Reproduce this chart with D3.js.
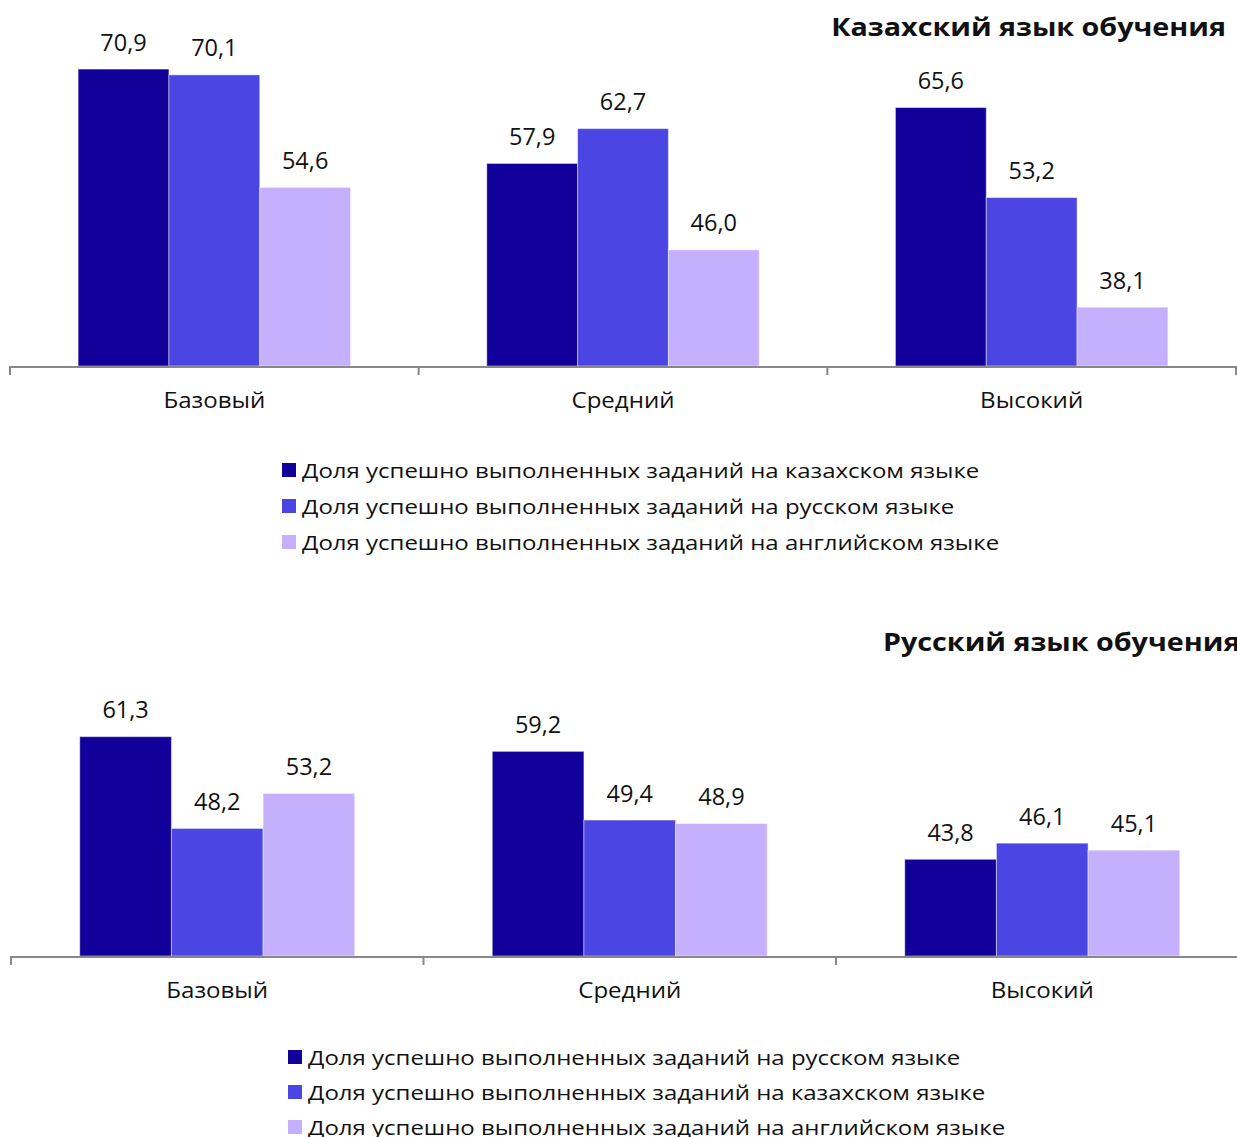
<!DOCTYPE html>
<html><head><meta charset="utf-8">
<script src="https://cdn.jsdelivr.net/npm/d3@7"></script>
<style>body{margin:0;background:#fff}svg{display:block}text{font-family:"Open Sans",sans-serif;fill:#111}</style>
</head><body>
<svg id="c" width="1237" height="1137"></svg>
<script>
const categories = ["Базовый", "Средний", "Высокий"];
const titleKz = "Казахский язык обучения";
const seriesKz = ["Доля успешно выполненных заданий на казахском языке", "Доля успешно выполненных заданий на русском языке", "Доля успешно выполненных заданий на английском языке"];
const kzKazakh = [70.9, 57.9, 65.6];
const kzRussian = [70.1, 62.7, 53.2];
const kzEnglish = [54.6, 46.0, 38.1];
const titleRu = "Русский язык обучения";
const seriesRu = ["Доля успешно выполненных заданий на русском языке", "Доля успешно выполненных заданий на казахском языке", "Доля успешно выполненных заданий на английском языке"];
const ruRussian = [61.3, 59.2, 43.8];
const ruKazakh = [48.2, 49.4, 46.1];
const ruEnglish = [53.2, 48.9, 45.1];
const yDomain = [30, 80];
const colors = ["#12009b", "#4b45e3", "#c5b0fd"];

const svg = d3.select("#c");
const fmt = v => d3.format(".1f")(v).replace(".", ",");

function chart(o) {
  const g = svg.append("g");
  const x = d3.scaleBand().domain(categories).range([o.x0, o.x1]);
  const bw = x.bandwidth();
  const xs = d3.scaleBand().domain([0,1,2]).range([bw/6, bw*5/6]);
  const y = d3.scaleLinear().domain(yDomain).range([o.base, o.top]);
  const rows = categories.map((c,i) => ({c, vals: o.series.map(s => s[i])}));
  const grp = g.selectAll("g.grp").data(rows).join("g").attr("transform", d => `translate(${x(d.c)},0)`);
  grp.selectAll("rect").data(d => d.vals.map((v,k)=>({v,k}))).join("rect")
    .attr("x", d => xs(d.k)).attr("width", xs.bandwidth())
    .attr("y", d => y(d.v)).attr("height", d => y(yDomain[0]) - y(d.v))
    .attr("fill", d => colors[d.k]).attr("stroke", "rgba(255,255,255,0.45)").attr("stroke-width", 1);
  grp.selectAll("text.val").data(d => d.vals.map((v,k)=>({v,k}))).join("text").attr("class","val")
    .attr("x", d => xs(d.k) + xs.bandwidth()/2).attr("y", d => y(d.v) - 18.5)
    .attr("text-anchor","middle").style("font-size","23.5px").text(d => fmt(d.v));
  // axis
  const edges = categories.map(c => x(c)).concat([o.x1]);
  g.append("line").attr("x1", o.x0).attr("x2", o.x1).attr("y1", o.base+1).attr("y2", o.base+1)
    .attr("stroke","#888").attr("stroke-width",2);
  g.selectAll("line.tick").data(edges).join("line").attr("class","tick")
    .attr("x1", d=>d).attr("x2", d=>d).attr("y1", o.base).attr("y2", o.base+9)
    .attr("stroke","#888").attr("stroke-width",2);
  g.selectAll("text.cat").data(categories).join("text").attr("class","cat")
    .attr("transform", d => `translate(${x(d) + bw/2},${o.base + 41.5}) scale(1.095,1)`)
    .attr("text-anchor","middle").style("font-size","22px").text(d => d);
  // title
  g.append("text").attr("transform", `translate(${o.titleX},${o.titleY}) scale(1.126,1)`)
    .attr("text-anchor", o.titleAnchor)
    .style("font-size","25.5px").style("font-weight","700").text(o.title);
  // legend
  const lg = g.selectAll("g.leg").data(o.names).join("g").attr("class","leg")
    .attr("transform", (d,i) => `translate(${o.legX},${o.legY + i*o.legStep})`);
  lg.append("rect").attr("x",0).attr("y",-7).attr("width",14).attr("height",14).attr("fill",(d,i)=>colors[i]);
  lg.append("text").attr("transform","translate(20,7.5) scale(1.17,1)").style("font-size","20.5px").text(d=>d);
}

chart({x0:10, x1:1236, base:366, top:3, series:[kzKazakh, kzRussian, kzEnglish], names: seriesKz,
  title: titleKz, titleX:1226, titleY:35.5, titleAnchor:"end", legX:282, legY:470, legStep:36});
chart({x0:11, x1:1248.5, base:956, top:605.6, series:[ruRussian, ruKazakh, ruEnglish], names: seriesRu,
  title: titleRu, titleX:883, titleY:651, titleAnchor:"start", legX:288, legY:1057, legStep:35});
</script>
</body></html>
